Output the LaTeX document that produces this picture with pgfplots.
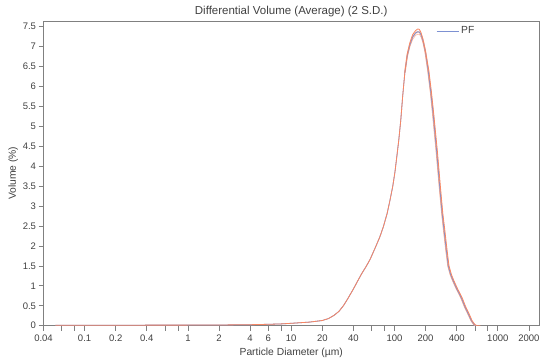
\documentclass[border=0pt]{standalone}
\usepackage{pgfplots}
\pgfplotsset{compat=1.18}
\usepackage{fontspec}
\setmainfont{Liberation Sans}
\definecolor{curveor}{RGB}{247,135,100}
\definecolor{bandor}{RGB}{250,195,172}
\definecolor{meanbl}{RGB}{125,145,210}
\definecolor{axgray}{RGB}{128,128,128}
\definecolor{txtgray}{RGB}{64,64,64}
\begin{document}
\begin{tikzpicture}
\path[use as bounding box] (-43.5pt,-38.3pt) rectangle (506.5pt,325.7pt);
\begin{axis}[
  at={(0pt,0pt)}, anchor=south west,
  scale only axis,
  width=495.5pt, height=304.7pt,
  xmode=log,
  xmin=0.04, xmax=2506,
  ymin=0, ymax=7.64,
  font=\fontsize{9.5}{11}\selectfont,
  /pgf/number format/assume math mode=true,
  axis line style={axgray, line width=0.9pt},
  tick style={axgray, line width=0.7pt},
  tick align=outside,
  major tick length=5pt,
  xtick pos=bottom, ytick pos=left,
  xtick={0.04,0.06,0.08,0.1,0.2,0.4,0.6,0.8,1,2,4,6,8,10,20,40,60,80,100,200,400,600,800,1000,2000},
  xticklabels={0.04,,,0.1,0.2,0.4,,,1,2,4,6,,10,20,40,,,100,200,400,,,1000,2000},
  ytick={0,0.5,1,1.5,2,2.5,3,3.5,4,4.5,5,5.5,6,6.5,7,7.5},
  yticklabels={0,0.5,1,1.5,2,2.5,3,3.5,4,4.5,5,5.5,6,6.5,7,7.5},
  tick label style={txtgray},
  xticklabel style={yshift=-0.5pt},
  yticklabel style={xshift=1pt},
  title={Differential Volume (Average) (2 S.D.)},
  title style={txtgray, font=\fontsize{11.5}{13}\selectfont, yshift=-5.5pt},
  xlabel={Particle Diameter (µm)},
  xlabel style={txtgray, font=\fontsize{10.3}{12}\selectfont, yshift=0.5pt},
  ylabel={Volume (\%)},
  ylabel style={txtgray, font=\fontsize{10.3}{12}\selectfont, yshift=-2pt},
  legend style={draw=none, fill=none, at={(0.786,0.995)}, anchor=north west,
    font=\fontsize{10.3}{12}\selectfont},
  legend cell align=left,
  legend image code/.code={\draw[meanbl, line width=1pt] (0pt,0pt) -- (22pt,0pt);},
]
\addplot[bandor, line width=1.6pt, forget plot] coordinates {
(126,6.35)(133,6.78)(141,7.05)(150,7.24)(160,7.34)(168,7.37)(175,7.36)(182,7.28)(190,7.12)
(200,6.85)(212,6.40)(225,5.85)(237,5.30)(256,4.38)(275,3.45)(290,2.80)(302,2.40)(317,1.92)(332,1.50)
(350,1.28)(371,1.12)(400,0.93)(425,0.80)(447,0.68)(480,0.48)(518,0.30)(555,0.13)(590,0.03)(610,0.0)
};
\addplot[curveor, line width=0.6pt, opacity=0.6, forget plot] coordinates {
(126,6.35)(133,6.74)(141,7.00)(150,7.18)(160,7.28)(168,7.31)(175,7.30)(182,7.22)(190,7.06)
(197,6.85)(209,6.40)(222,5.85)(233,5.30)(252,4.38)(271,3.45)(286,2.80)(297,2.40)(312,1.92)(327,1.50)
(345,1.28)(365,1.12)(394,0.93)(418,0.80)(440,0.68)(472,0.48)(510,0.30)(547,0.13)(582,0.03)(600,0.0)
};
\addplot[meanbl, line width=0.8pt] coordinates {
(0.052,0.01)(0.1,0.012)(0.2,0.013)(0.5,0.014)(1,0.015)(2,0.018)(4,0.025)(6,0.035)(8,0.045)(10,0.06)
(15,0.09)(20,0.13)(23,0.18)(26,0.26)(29,0.36)(32,0.50)(35,0.66)(40,0.92)(44,1.12)(48,1.30)(53,1.48)
(58,1.66)(65,1.95)(72,2.22)(78,2.48)(85,2.82)(90,3.12)(96,3.48)(101,3.85)(106,4.30)(110,4.65)(115,5.15)
(120,5.75)(126,6.35)(133,6.78)(141,7.05)(150,7.24)(160,7.34)(168,7.37)(175,7.36)(182,7.28)(190,7.12)
(200,6.85)(212,6.40)(225,5.85)(237,5.30)(256,4.38)(275,3.45)(290,2.80)(302,2.40)(317,1.92)(332,1.50)
(350,1.28)(371,1.12)(400,0.93)(425,0.80)(447,0.68)(480,0.48)(518,0.30)(555,0.13)(590,0.03)(610,0.0)
};
\addlegendentry{\textcolor{txtgray}{PF}}
\addplot[curveor, line width=0.8pt, forget plot] coordinates {
(0.052,0.01)(0.1,0.012)(0.2,0.013)(0.5,0.014)(1,0.015)(2,0.018)(4,0.025)(6,0.035)(8,0.045)(10,0.06)
(15,0.09)(20,0.13)(23,0.18)(26,0.26)(29,0.36)(32,0.50)(35,0.66)(40,0.92)(44,1.12)(48,1.30)(53,1.48)
(58,1.66)(65,1.95)(72,2.22)(78,2.48)(85,2.82)(90,3.12)(96,3.48)(101,3.85)(106,4.30)(110,4.65)(115,5.15)
(120,5.75)(126,6.35)(133,6.82)(141,7.10)(150,7.30)(160,7.40)(168,7.44)(174,7.43)(180,7.36)(188,7.20)
(198,6.93)(215,6.40)(228,5.85)(240,5.30)(260,4.38)(279,3.45)(294,2.80)(307,2.40)(322,1.92)(337,1.50)
(356,1.28)(377,1.12)(407,0.93)(432,0.80)(455,0.68)(488,0.48)(527,0.30)(565,0.12)(600,0.03)(630,0.0)(680,0.0)
};
\end{axis}
\end{tikzpicture}
\end{document}
